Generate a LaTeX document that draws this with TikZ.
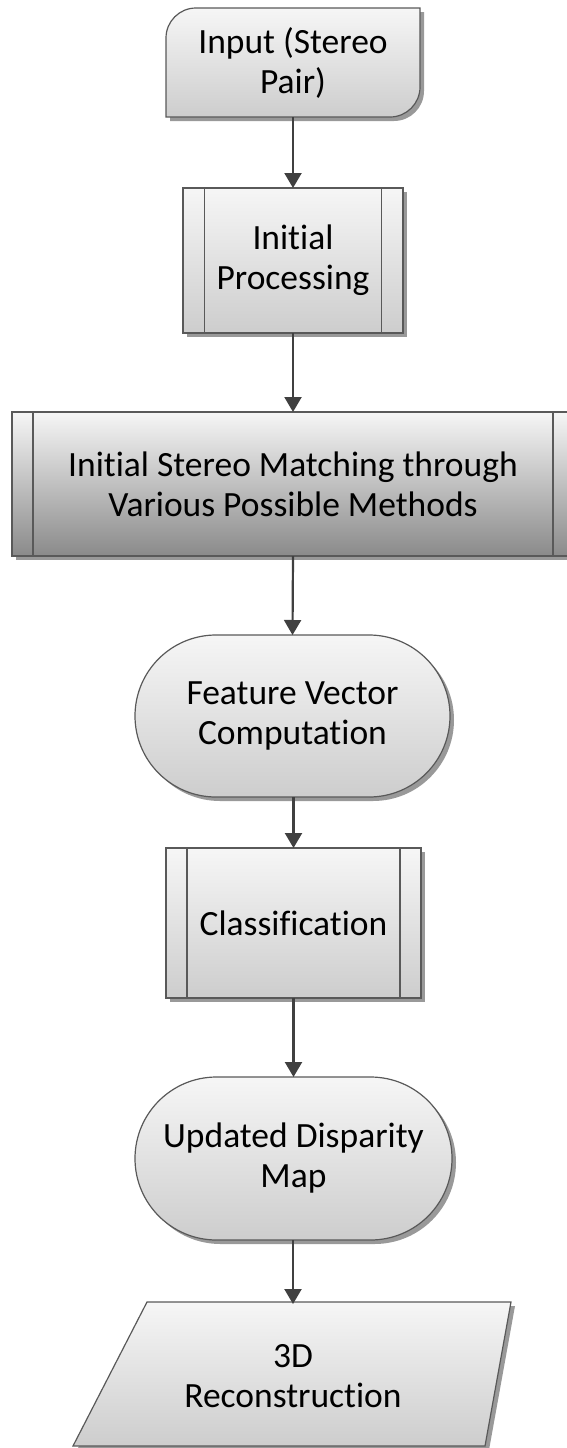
\documentclass[tikz,border=0pt]{standalone}
\usepackage{fontspec}
\setmainfont{Carlito}[Ligatures=NoCommon, RawFeature=-calt, RawFeature=-clig]
\usetikzlibrary{arrows.meta,shapes.misc,shadows}

\definecolor{edgegray}{HTML}{595959}
\definecolor{arrowgray}{HTML}{404040}
\definecolor{filltop}{HTML}{F6F6F6}
\definecolor{fillbot}{HTML}{CDCDCD}
\definecolor{darkbot}{HTML}{8A8A8A}

\tikzset{
  shapebase/.style={draw=edgegray, line width=1.2pt,
    top color=filltop, bottom color=fillbot,
    drop shadow={shadow xshift=4pt, shadow yshift=-4pt, fill=black!40, opacity=1}},
  label/.style={font=\fontsize{35.5}{40}\selectfont, align=center, text=black,
    inner sep=0pt, outer sep=0pt},
  procbox/.style={shapebase, label, rectangle},
  stadium/.style={shapebase, label, rounded rectangle},
  flow/.style={arrowgray, line width=2.2pt, -{Triangle[length=15pt,width=17pt]}},
  sideline/.style={draw=edgegray, line width=1.2pt}
}

\begin{document}
\begin{tikzpicture}[x=1pt,y=-1pt]
\useasboundingbox (0,0) rectangle (567,1448);

% start terminal with two rounded corners
\path[shapebase] (166,117) -- (166,38) .. controls (166,21.4) and (179.4,8) .. (196,8)
  -- (420,8) -- (420,87) .. controls (420,103.6) and (406.6,117) .. (390,117) -- cycle;
\node[label, minimum width=254pt, minimum height=109pt] (input) at (293,62.5)
  {Input (Stereo\\Pair)};

% predefined process boxes
\node[procbox, minimum width=220pt, minimum height=145pt] (prep) at (293,260.5)
  {Initial\\Processing};
\node[procbox, minimum width=562pt, minimum height=144pt, bottom color=darkbot] (match) at (293,484)
  {Initial Stereo Matching through\\Various Possible Methods};

\node[stadium, minimum width=315pt, minimum height=162pt] (feat) at (292.5,716)
  {Feature Vector\\Computation};

\node[procbox, minimum width=255pt, minimum height=150pt] (class) at (293.5,923)
  {Classification};

\node[stadium, minimum width=317pt, minimum height=163pt] (upd) at (293.5,1158.5)
  {Updated Disparity\\Map};

% output as a slanted data shape
\path[shapebase] (147,1302) -- (511,1302) -- (485,1446) -- (73,1446) -- cycle;
\node[label, minimum width=300pt, minimum height=144pt] (recon) at (293,1376)
  {3D\\Reconstruction};

% inner side bars of the process boxes
\foreach \n/\d in {prep/21.5, match/21, class/21}{
  \draw[sideline] ([xshift=\d pt]\n.north west) -- ([xshift=\d pt]\n.south west);
  \draw[sideline] ([xshift=-\d pt]\n.north east) -- ([xshift=-\d pt]\n.south east);
}

% connectors
\draw[flow] (input.south) -- (prep.north);
\draw[flow] (prep.south) -- (match.north);
\draw[flow] (match.south) -- (feat.north);
\draw[flow] (feat.south -| class.north) -- (class.north);
\draw[flow] (class.south) -- (upd.north -| class.south);
\draw[flow] (upd.south -| recon.north) -- (recon.north);
\end{tikzpicture}
\end{document}
